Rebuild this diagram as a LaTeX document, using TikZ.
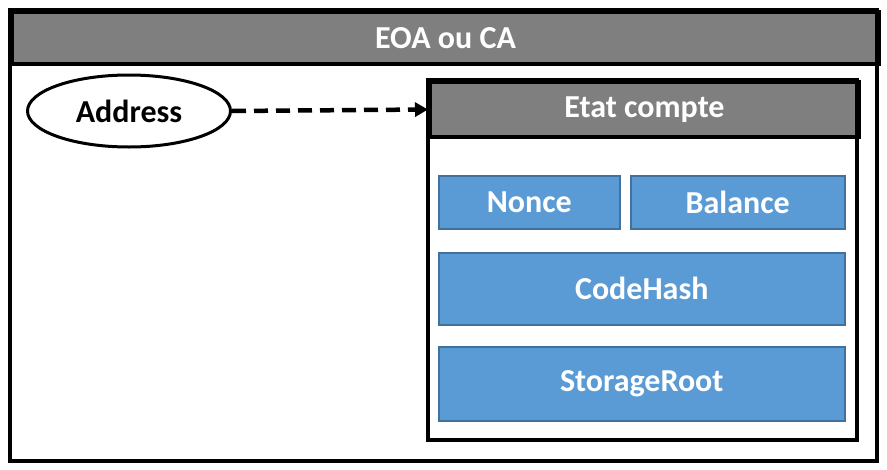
\documentclass[tikz,border=0pt]{standalone}
\usepackage{fontspec}
\setmainfont{Carlito}
\usetikzlibrary{positioning,arrows.meta,shapes.geometric}
\definecolor{hdrgray}{HTML}{7F7F7F}
\definecolor{fieldblue}{HTML}{5B9BD5}
\definecolor{fieldline}{HTML}{41719C}

\begin{document}
\begin{tikzpicture}[x=1pt,y=-1pt,
    lbl/.style={font=\bfseries\fontsize{32}{36}\selectfont},
    hdr/.style={lbl, draw=black, line width=4pt, fill=hdrgray, text=white,
        inner sep=0pt, anchor=north west},
    field/.style={lbl, draw=fieldline, line width=1.5pt, fill=fieldblue,
        text=white, inner sep=0pt, anchor=north west},
    link/.style={line width=4.5pt, dash pattern=on 14pt off 8pt,
        -{Triangle[length=13pt,width=14pt]}}]
    \useasboundingbox (0,0) rectangle (887,469);

    % outer frame
    \node[hdr, minimum width=867pt, minimum height=52pt] (eoa) at (10,10) {EOA ou CA};
    \draw[line width=4pt] (eoa.north west) rectangle (877,461);

    % account state
    \node[hdr, minimum width=429pt, minimum height=55pt] (etat) at (428,80) {Etat compte};
    \draw[line width=4pt] (etat.north west) rectangle (857,440);

    \node[field, minimum width=181pt, minimum height=53pt] (nonce) at (438,175) {Nonce};
    \node[field, minimum width=214pt, minimum height=53pt] (balance) at (630,175) {Balance};
    \node[field, minimum width=406pt, minimum height=72pt] (codehash) at (438,252) {CodeHash};
    \node[field, minimum width=406pt, minimum height=74pt] (storage) at (438,346) {StorageRoot};

    % address
    \node[lbl, draw, ellipse, line width=3pt, inner sep=0pt,
        minimum width=203pt, minimum height=72pt] (addr) at (129,111) {Address};
    \draw[link] (addr.east) -- (etat.west);
\end{tikzpicture}
\end{document}
